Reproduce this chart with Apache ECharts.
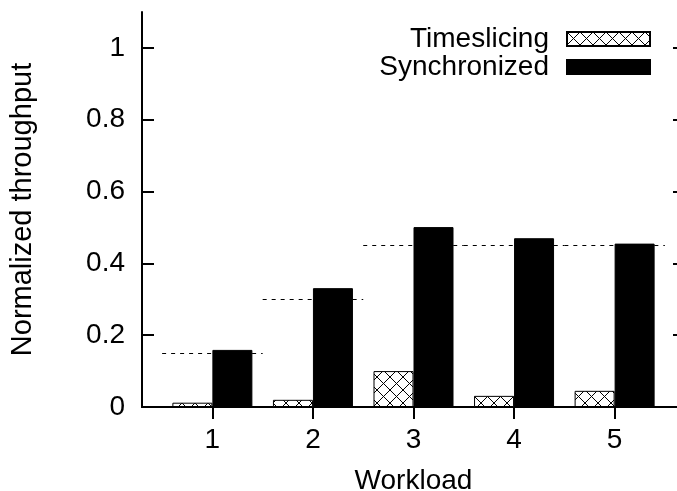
<!DOCTYPE html>
<html>
<head>
<meta charset="utf-8">
<script src="https://cdn.jsdelivr.net/npm/echarts@6/dist/echarts.min.js"></script>
<style>
  html, body { margin: 0; padding: 0; background: #fff; }
</style>
</head>
<body>
<div id="main" style="width: 677px; height: 491px;"></div>
<script>
const workloads = [1, 2, 3, 4, 5];
const timeslicing = [0.012, 0.02, 0.1, 0.031, 0.045];
const synchronized = [0.159, 0.331, 0.501, 0.47, 0.455];
const target = [0.15, 0.3, 0.45, 0.45, 0.45];
const yTicks = [0, 0.2, 0.4, 0.6, 0.8, 1];

const font = 'Liberation Sans, Arial, Helvetica, sans-serif';

// crosshatch fill like gnuplot pattern
function makeHatch() {
  let c = document.createElement('canvas');
  c.width = 13;
  c.height = 13;
  let ctx = c.getContext('2d');
  ctx.fillStyle = '#fff';
  ctx.fillRect(0, 0, 13, 13);
  ctx.strokeStyle = '#000';
  ctx.lineWidth = 1;
  ctx.beginPath();
  ctx.moveTo(0, 0); ctx.lineTo(13, 13);
  ctx.moveTo(13, 0); ctx.lineTo(0, 13);
  ctx.stroke();
  return c;
}

let myChart = echarts.init(document.getElementById('main'), null, { renderer: 'canvas' });

let axisLine = { show: true, lineStyle: { color: '#000', width: 2 } };
let innerTick = { show: true, inside: true, length: 12, lineStyle: { color: '#000', width: 2 } };

let option = {
  animation: false,
  backgroundColor: '#fff',
  textStyle: { fontFamily: font },
  // right edge of the frame is cut off in the original, so grid runs past the canvas
  grid: { left: 142, top: 12, width: 543, height: 395, outerBoundsMode: 'none', containLabel: false },
  legend: {
    data: ['Timeslicing', 'Synchronized'],
    orient: 'vertical',
    align: 'right',
    right: 26,
    top: 25,
    padding: 0,
    itemGap: 0,
    itemWidth: 83,
    itemHeight: 14,
    icon: 'rect',
    textStyle: { fontFamily: font, fontSize: 28, color: '#000', lineHeight: 28, padding: [0, 13, 0, 0] }
  },
  xAxis: [
    {
      type: 'value',
      min: 0.3,
      max: 5.7,
      position: 'bottom',
      name: 'Workload',
      nameLocation: 'middle',
      nameGap: 60,
      nameTextStyle: { fontFamily: font, fontSize: 28, color: '#000' },
      axisLine: axisLine,
      axisTick: { show: false },
      splitLine: { show: false },
      axisLabel: { customValues: workloads, fontSize: 28, color: '#000', margin: 19, fontFamily: font }
    },
    {
      type: 'value',
      min: 0.3,
      max: 5.7,
      position: 'top',
      axisLine: axisLine,
      axisTick: Object.assign({ customValues: workloads }, innerTick),
      axisLabel: { show: false },
      splitLine: { show: false }
    }
  ],
  yAxis: [
    {
      type: 'value',
      min: 0,
      max: 1.1,
      position: 'left',
      name: 'Normalized throughput',
      nameLocation: 'middle',
      nameGap: 105,
      nameTextStyle: { fontFamily: font, fontSize: 29, color: '#000' },
      axisLine: axisLine,
      axisTick: Object.assign({ customValues: yTicks }, innerTick),
      axisLabel: { customValues: yTicks, fontSize: 28, color: '#000', margin: 17, fontFamily: font },
      splitLine: { show: false }
    },
    {
      type: 'value',
      min: 0,
      max: 1.1,
      position: 'right',
      axisLine: axisLine,
      axisTick: Object.assign({ customValues: yTicks }, innerTick),
      axisLabel: { show: false },
      splitLine: { show: false }
    }
  ],
  series: [
    {
      name: 'Timeslicing',
      type: 'bar',
      barWidth: 40,
      barGap: '0%',
      data: workloads.map((w, i) => [w, timeslicing[i]]),
      itemStyle: {
        color: { image: makeHatch(), repeat: 'repeat' },
        borderColor: '#000',
        borderWidth: 1
      }
    },
    {
      name: 'Synchronized',
      type: 'bar',
      barWidth: 40,
      barGap: '0%',
      data: workloads.map((w, i) => [w, synchronized[i]]),
      itemStyle: { color: '#000', borderColor: '#000', borderWidth: 1 }
    },
    {
      // dashed reference level per workload, behind the bars
      name: 'Target',
      type: 'line',
      z: 1,
      data: [],
      markLine: {
        silent: true,
        z: 1,
        symbol: ['none', 'none'],
        label: { show: false },
        emphasis: { disabled: true },
        lineStyle: { color: '#000', width: 1, type: [4, 5] },
        data: workloads.map((w, i) => [
          { coord: [w - 0.5, target[i]] },
          { coord: [w + 0.5, target[i]] }
        ])
      }
    }
  ]
};

myChart.setOption(option);
</script>
</body>
</html>
